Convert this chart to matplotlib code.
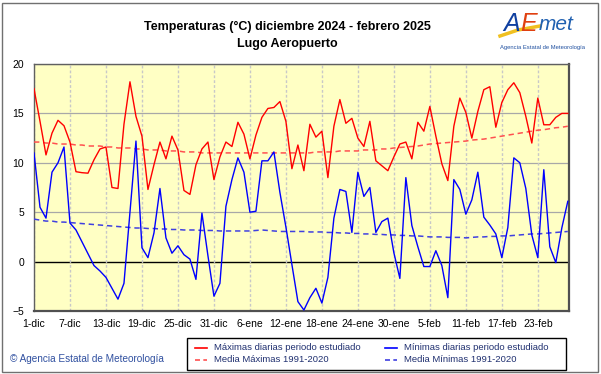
import matplotlib
matplotlib.use("Agg")
import matplotlib.pyplot as plt
from matplotlib.patches import Rectangle
from matplotlib.lines import Line2D

plt.rcParams['font.family'] = ['Liberation Sans', 'DejaVu Sans']

tick_labels = ["1-dic", "7-dic", "13-dic", "19-dic", "25-dic", "31-dic", "6-ene",
               "12-ene", "18-ene", "24-ene", "30-ene", "5-feb", "11-feb", "17-feb", "23-feb"]

t_max = [17.5, 14.2, 10.8, 13.0, 14.3, 13.75, 12.1, 9.1, 9.0, 8.95,
         10.3, 11.4, 11.6, 7.5, 7.4, 13.9, 18.2, 14.7, 12.7, 7.3,
         9.8, 12.1, 10.4, 12.7, 11.3, 7.2, 6.8, 9.8, 11.4, 12.1,
         8.3, 10.6, 12.1, 11.65, 14.1, 12.9, 10.4, 12.8, 14.6, 15.5,
         15.6, 16.2, 14.2, 9.4, 11.8, 9.2, 13.9, 12.6, 13.2, 8.5,
         13.7, 16.4, 14.0, 14.5, 12.5, 11.65, 14.2, 10.2, 9.7, 9.2,
         10.6, 11.9, 12.1, 10.4, 14.1, 13.2, 15.7, 12.7, 9.9, 8.2,
         13.7, 16.55, 15.1, 12.5, 15.2, 17.4, 17.7, 13.6, 16.1, 17.4,
         18.1, 17.1, 14.7, 12.0, 16.55, 13.85, 13.85, 14.6, 15.0, 15.0]

t_min = [11.0, 5.5, 4.4, 9.05, 10.0, 11.6, 3.9, 3.2, 2.0, 0.8,
         -0.4, -0.95, -1.6, -2.7, -3.8, -2.2, 5.0, 12.2, 1.4, 0.4,
         2.9, 7.4, 2.4, 0.85, 1.6, 0.7, 0.25, -1.8, 4.9, 0.6,
         -3.5, -2.2, 5.6, 8.3, 10.5, 9.05, 5.0, 5.1, 10.2, 10.2,
         11.1, 7.0, 3.5, -0.3, -4.05, -4.9, -3.65, -2.7, -4.2, -1.6,
         4.4, 7.3, 7.1, 2.95, 9.05, 6.6, 7.5, 2.95, 4.05, 4.4,
         0.9, -1.7, 8.5, 3.65, 1.5, -0.5, -0.5, 1.1, -0.4, -3.65,
         8.3, 7.3, 4.8, 6.25, 9.05, 4.5, 3.7, 2.8, 0.4, 3.45,
         10.5, 10.0, 7.4, 2.7, 0.4, 9.3, 1.5, -0.1, 3.4, 6.1]

mean_max = [12.1, 12.1, 12.0, 12.0, 11.9, 11.9, 11.9, 11.8, 11.8, 11.7,
            11.7, 11.7, 11.6, 11.6, 11.5, 11.5, 11.5, 11.4, 11.4, 11.3,
            11.3, 11.3, 11.2, 11.2, 11.2, 11.1, 11.1, 11.1, 11.0, 11.0,
            11.0, 11.0, 11.0, 11.0, 11.0, 11.0, 11.0, 11.0, 11.0, 11.0,
            11.0, 11.0, 11.0, 11.0, 11.0, 11.0, 11.0, 11.1, 11.1, 11.1,
            11.1, 11.2, 11.2, 11.2, 11.2, 11.3, 11.3, 11.3, 11.4, 11.4,
            11.5, 11.55, 11.6, 11.65, 11.7, 11.8, 11.9, 11.95, 12.0, 12.05,
            12.1, 12.15, 12.2, 12.3, 12.35, 12.4, 12.5, 12.6, 12.7, 12.8,
            12.9, 13.0, 13.1, 13.2, 13.3, 13.35, 13.45, 13.55, 13.6, 13.7]

mean_min = [4.3, 4.2, 4.1, 4.1, 4.0, 4.0, 3.95, 3.9, 3.85, 3.8,
            3.75, 3.7, 3.65, 3.6, 3.55, 3.5, 3.45, 3.4, 3.4, 3.35,
            3.35, 3.3, 3.3, 3.25, 3.25, 3.2, 3.2, 3.2, 3.15, 3.15,
            3.15, 3.1, 3.1, 3.1, 3.1, 3.1, 3.1, 3.15, 3.2, 3.15,
            3.1, 3.05, 3.05, 3.05, 3.05, 3.05, 3.0, 3.0, 3.0, 2.95,
            2.95, 2.9, 2.9, 2.85, 2.85, 2.8, 2.8, 2.75, 2.75, 2.7,
            2.7, 2.65, 2.65, 2.6, 2.6, 2.55, 2.5, 2.5, 2.5, 2.45,
            2.45, 2.45, 2.4, 2.45, 2.5, 2.5, 2.55, 2.55, 2.6, 2.6,
            2.65, 2.7, 2.75, 2.8, 2.8, 2.85, 2.9, 2.95, 3.0, 3.05]

days = list(range(len(t_max)))

W, H = 601, 374
fig = plt.figure(figsize=(W / 100, H / 100), dpi=100)
fig.patch.set_facecolor("white")

# outer frame of the image
fig.add_artist(Rectangle((2 / W, 2 / H), (W - 5) / W, (H - 5) / H, transform=fig.transFigure,
                         fill=False, edgecolor="#707070", linewidth=1.0))

left, right, top, bottom = 34, 569, 64, 311
ax = fig.add_axes([left / W, 1 - bottom / H, (right - left) / W, (bottom - top) / H])
ax.set_facecolor("#FFFFC4")
ax.set_xlim(0, 89.2)
ax.set_ylim(-5, 20)

for v in [5, 10, 15, 20]:
    ax.axhline(v, color="#A8A8A8", linewidth=0.9, zorder=1)
ax.axhline(0, color="black", linewidth=1.0, zorder=1)
for k in range(len(tick_labels)):
    ax.axvline(k * 6, color="#C8C8C8", linewidth=1.0, linestyle=(0, (2, 1.5)), zorder=1)

ax.plot(days, mean_max, color="#FF5050", linewidth=1.1, linestyle=(0, (3.5, 2.5)), zorder=3)
ax.plot(days, mean_min, color="#4040E0", linewidth=1.1, linestyle=(0, (3.5, 2.5)), zorder=3)
ax.plot(days, t_max, color="#FF0000", linewidth=1.0, zorder=4)
ax.plot(days, t_min, color="#0000FF", linewidth=1.0, zorder=4)

ax.set_xticks([k * 6 for k in range(len(tick_labels))])
ax.set_xticklabels(tick_labels)
ax.set_yticks([-5, 0, 5, 10, 15, 20])
ax.tick_params(axis="both", length=0, labelsize=7.5, colors="black")
ax.tick_params(axis="x", pad=6)
ax.tick_params(axis="y", pad=7)
for s in ["left", "top"]:
    ax.spines[s].set_color("#606060")
    ax.spines[s].set_linewidth(1.0)
for s in ["right", "bottom"]:
    ax.spines[s].set_color("#505050")
    ax.spines[s].set_linewidth(1.6)

fig.text(287 / W, 1 - 27 / H, "Temperaturas (°C) diciembre 2024 - febrero 2025",
         ha="center", va="center", fontsize=9, fontweight="bold")
fig.text(287 / W, 1 - 44 / H, "Lugo Aeropuerto",
         ha="center", va="center", fontsize=9, fontweight="bold")

# logo
fig.add_artist(Line2D([500 / W, 518 / W, 540 / W], [1 - 36 / H, 1 - 30 / H, 1 - 26 / H],
                      transform=fig.transFigure, color="#F0C020", linewidth=2.5))
fig.text(512 / W, 1 - 24 / H, "A", ha="center", va="center", fontsize=18,
         color="#1040A0", style="italic")
fig.text(529 / W, 1 - 24 / H, "E", ha="center", va="center", fontsize=18,
         color="#E04010", style="italic")
fig.text(539 / W, 1 - 24 / H, "met", ha="left", va="center", fontsize=15,
         color="#2060B0", style="italic")
fig.text(543 / W, 1 - 48 / H, "Agencia Estatal de Meteorología", ha="center", va="center",
         fontsize=4.2, color="#2050A0")

# legend box
fig.add_artist(Rectangle((187 / W, 1 - 370 / H), (566 - 187) / W, (370 - 338) / H,
                         transform=fig.transFigure, fill=True, facecolor="white",
                         edgecolor="black", linewidth=1.0))
entries = [
    (195, 348, "#FF0000", "-", "Máximas diarias periodo estudiado"),
    (195, 360, "#FF5050", (0, (3, 2)), "Media Máximas 1991-2020"),
    (385, 348, "#0000FF", "-", "Mínimas diarias periodo estudiado"),
    (385, 360, "#4040E0", (0, (3, 2)), "Media Mínimas 1991-2020"),
]
for x0, y0, col, ls, label in entries:
    fig.add_artist(Line2D([x0 / W, (x0 + 12) / W], [1 - y0 / H, 1 - y0 / H],
                          transform=fig.transFigure, color=col, linestyle=ls, linewidth=1.2))
    fig.text((x0 + 19) / W, 1 - y0 / H, label, ha="left", va="center",
             fontsize=6.8, color="#203070")

fig.text(10 / W, 1 - 359 / H, "© Agencia Estatal de Meteorología", ha="left", va="center",
         fontsize=7.2, color="#3050A0")

fig.savefig("out.png", dpi=100)
